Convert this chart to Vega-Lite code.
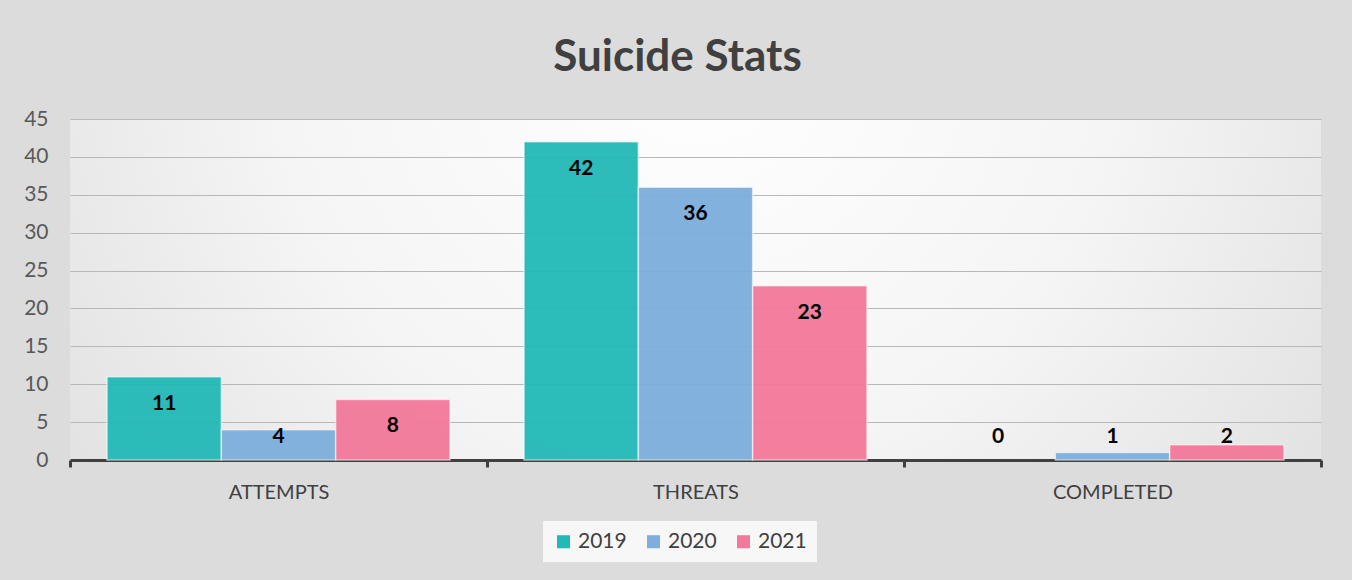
{
  "$schema": "https://vega.github.io/schema/vega-lite/v6.json",
  "width": 1251,
  "height": 341,
  "autosize": {"type": "none"},
  "padding": {"left": 70, "top": 119, "right": 31, "bottom": 120},
  "background": "#dcdcdc",
  "title": {
    "text": "Suicide Stats",
    "font": "Lato",
    "fontSize": 44,
    "fontWeight": "bold",
    "color": "#404040",
    "anchor": "middle",
    "offset": 28,
    "dx": -18
  },
  "config": {
    "view": {
      "stroke": null,
      "fill": {
        "gradient": "radial",
        "x1": 0.5, "y1": 0.3, "r1": 0,
        "x2": 0.5, "y2": 0.3, "r2": 0.75,
        "stops": [
          {"offset": 0, "color": "#ffffff"},
          {"offset": 0.45, "color": "#f5f5f5"},
          {"offset": 1, "color": "#d8d8d8"}
        ]
      }
    },
    "font": "Lato"
  },
  "data": {
    "values": [
      {"category": "ATTEMPTS", "year": "2019", "value": 11},
      {"category": "ATTEMPTS", "year": "2020", "value": 4},
      {"category": "ATTEMPTS", "year": "2021", "value": 8},
      {"category": "THREATS", "year": "2019", "value": 42},
      {"category": "THREATS", "year": "2020", "value": 36},
      {"category": "THREATS", "year": "2021", "value": 23},
      {"category": "COMPLETED", "year": "2019", "value": 0},
      {"category": "COMPLETED", "year": "2020", "value": 1},
      {"category": "COMPLETED", "year": "2021", "value": 2}
    ]
  },
  "transform": [
    {"calculate": "max(datum.value, 6.6)", "as": "labelPos"}
  ],
  "encoding": {
    "x": {
      "field": "category",
      "type": "nominal",
      "sort": ["ATTEMPTS", "THREATS", "COMPLETED"],
      "scale": {"paddingInner": 0, "paddingOuter": 0},
      "axis": {
        "title": null,
        "labelAngle": 0,
        "labelFontSize": 20,
        "labelColor": "#404040",
        "labelPadding": 15,
        "domainColor": "#404040",
        "domainWidth": 3,
        "tickBand": "extent",
        "tickColor": "#404040",
        "tickWidth": 3,
        "tickSize": 7,
        "grid": false
      }
    },
    "xOffset": {
      "field": "year",
      "type": "nominal",
      "scale": {"paddingInner": 0, "paddingOuter": 0.324}
    }
  },
  "layer": [
    {
      "mark": {"type": "bar", "stroke": "#ffffff", "strokeWidth": 1.5, "opacity": 0.95},
      "encoding": {
        "y": {
          "field": "value",
          "type": "quantitative",
          "scale": {"domain": [0, 45]},
          "axis": {
            "title": null,
            "values": [0, 5, 10, 15, 20, 25, 30, 35, 40, 45],
            "labelOverlap": false,
            "labelFontSize": 21,
            "labelColor": "#595959",
            "labelPadding": 22,
            "domain": false,
            "ticks": false,
            "gridColor": "#b8b8b8",
            "gridWidth": 1.2
          }
        },
        "strokeOpacity": {
          "condition": {"test": "datum.value == 0", "value": 0},
          "value": 0.6
        },
        "color": {
          "field": "year",
          "type": "nominal",
          "scale": {"domain": ["2019", "2020", "2021"], "range": ["#22b9b6", "#7daedd", "#f3789a"]},
          "legend": {
            "title": null,
            "orient": "none",
            "legendX": 473,
            "legendY": 402,
            "direction": "horizontal",
            "symbolType": "square",
            "symbolSize": 170,
            "symbolStrokeWidth": 0,
            "symbolOpacity": 1,
            "labelFontSize": 21,
            "labelColor": "#404040",
            "columnPadding": 16,
            "fillColor": "#f7f7f7",
            "padding": 10
          }
        }
      }
    },
    {
      "mark": {"type": "text", "fontWeight": "bold", "fontSize": 21, "color": "#000000", "dy": 27, "baseline": "middle"},
      "encoding": {
        "y": {
          "field": "labelPos",
          "type": "quantitative",
          "scale": {"domain": [0, 45]},
          "axis": {
            "title": null,
            "values": [0, 5, 10, 15, 20, 25, 30, 35, 40, 45],
            "labelOverlap": false,
            "labelFontSize": 21,
            "labelColor": "#595959",
            "labelPadding": 22,
            "domain": false,
            "ticks": false,
            "gridColor": "#b8b8b8",
            "gridWidth": 1.2
          }
        },
        "text": {"field": "value", "type": "quantitative"}
      }
    }
  ]
}
